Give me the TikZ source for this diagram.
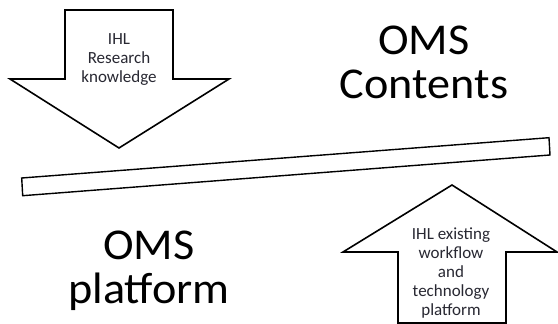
\documentclass[tikz,border=0pt]{standalone}
\usepackage{fontspec}
\setmainfont{Carlito}
\begin{document}
\begin{tikzpicture}[x=1pt,y=-1pt,
  shapeline/.style={draw=black,line width=1.6pt,line join=miter,fill=white},
  bigtext/.style={align=center,text=black,inner sep=0pt,font=\fontsize{44}{44}\selectfont,xscale=1.05},
  smalltext/.style={font=\fontsize{17}{19}\selectfont,align=center,text={rgb,255:red,40;green,40;blue,50},inner sep=0pt}]
\useasboundingbox (0,0) rectangle (558,324);
% down arrow
\draw[shapeline] (65,10) -- (173,10) -- (173,79) -- (229,79) -- (119,148) -- (10,79) -- (65,79) -- cycle;
% up arrow
\draw[shapeline] (398,323) -- (398,252) -- (343,252) -- (452,185) -- (557,252) -- (506,252) -- (506,323) -- cycle;
% tilted bar
\draw[shapeline,line width=1.4pt] (21.7,178) -- (549,137.7) -- (550,155) -- (22.7,195.7) -- cycle;
% texts
\node[smalltext] (t1) at (119,60) {IHL\\Research\\knowledge};
\node[smalltext] (t2) at (451,273) {IHL existing\\workflow\\and\\technology\\platform};
\node[bigtext,anchor=base] (c) at (424,98) {OMS\\Contents};
\node[bigtext,anchor=base] (p) at (149,303) {OMS\\platform};
\end{tikzpicture}
\end{document}
